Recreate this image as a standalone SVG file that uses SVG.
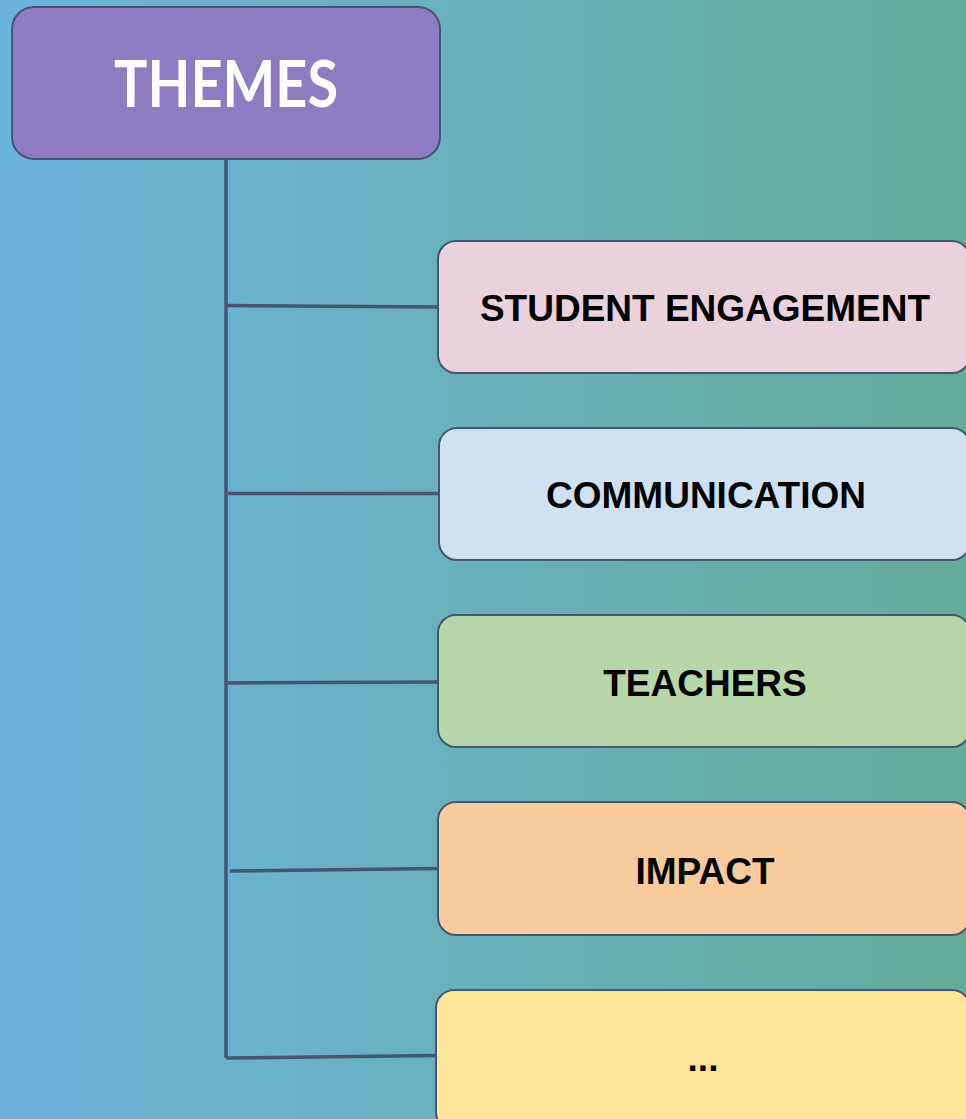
<svg xmlns="http://www.w3.org/2000/svg" width="966" height="1119" viewBox="0 0 966 1119">
  <defs>
    <linearGradient id="bg" x1="0" y1="0" x2="1" y2="0">
      <stop offset="0" stop-color="#6cb4dd"/>
      <stop offset="1" stop-color="#67ab9b"/>
    </linearGradient>
    <style>
      .box { stroke: #465670; stroke-width: 2; }
      .link { stroke: #465670; stroke-width: 3.5; fill: none; stroke-linejoin: miter; }
      .label { font-family: "Liberation Sans", Arial, sans-serif; font-weight: bold; font-size: 37px; fill: #000; text-anchor: middle; }
      .title { font-family: "Lato", "Liberation Sans", sans-serif; font-weight: bold; font-size: 65px; fill: #fff; text-anchor: middle; }
    </style>
  </defs>

  <rect x="0" y="0" width="966" height="1119" fill="url(#bg)"/>

  <!-- tree connectors -->
  <g id="connectors">
    <path class="link" d="M226 159 V1058"/>
    <path class="link" d="M226 305.5 L438 307"/>
    <path class="link" d="M228 493.5 L438 493.5"/>
    <path class="link" d="M226 683 L438 682"/>
    <path class="link" d="M230 871 L438 868.5"/>
    <path class="link" d="M226 1058 L436 1055.5"/>
  </g>

  <g id="themes">
    <rect class="box" x="12" y="7" width="428" height="152" rx="22" fill="#8e7cc3"/>
    <text class="title" x="226" y="107" textLength="224" lengthAdjust="spacingAndGlyphs">THEMES</text>
  </g>

  <g id="student-engagement">
    <rect class="box" x="438" y="241" width="532" height="132" rx="18" fill="#ead1dc"/>
    <text class="label" x="705" y="321">STUDENT ENGAGEMENT</text>
  </g>

  <g id="communication">
    <rect class="box" x="439" y="428" width="531" height="132" rx="18" fill="#cfe2f3"/>
    <text class="label" x="706" y="508">COMMUNICATION</text>
  </g>

  <g id="teachers">
    <rect class="box" x="438" y="615" width="532" height="132" rx="18" fill="#b6d7a8"/>
    <text class="label" x="705" y="696">TEACHERS</text>
  </g>

  <g id="impact">
    <rect class="box" x="438" y="802" width="532" height="133" rx="18" fill="#f9cb9c"/>
    <text class="label" x="705" y="884">IMPACT</text>
  </g>

  <g id="more">
    <rect class="box" x="436" y="990" width="534" height="140" rx="18" fill="#ffe599"/>
    <text class="label" x="703" y="1071">...</text>
  </g>
</svg>
